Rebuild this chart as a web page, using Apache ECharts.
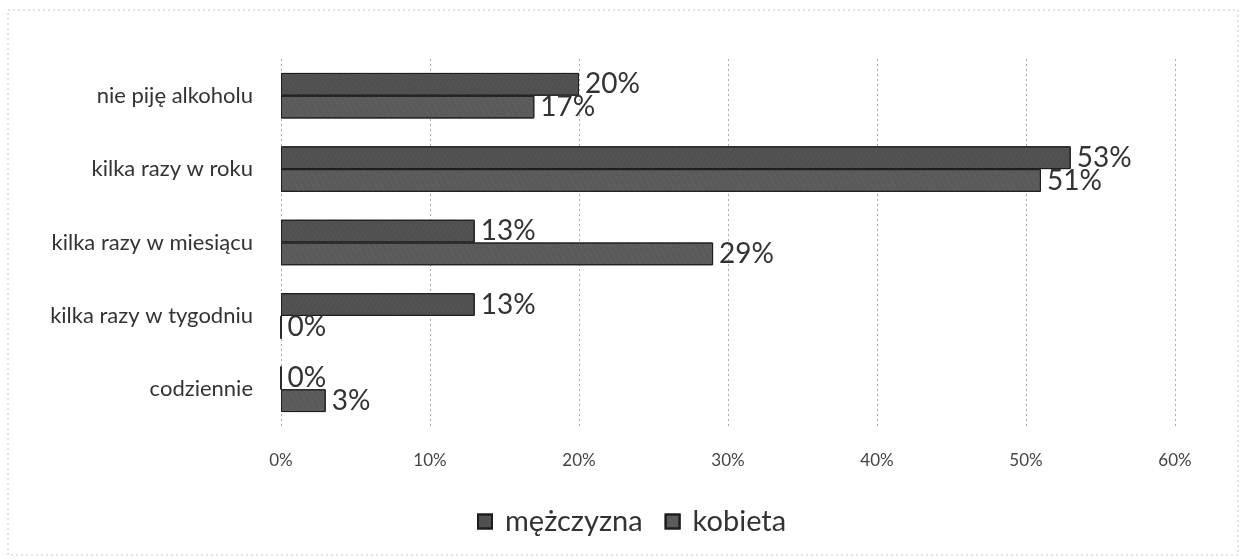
<!DOCTYPE html>
<html>
<head>
<meta charset="utf-8">
<script src="https://cdn.jsdelivr.net/npm/echarts@6/dist/echarts.min.js"></script>
<style>html,body{margin:0;padding:0;background:#fff}#c{width:1246px;height:560px}</style>
</head>
<body>
<div id="c"></div>
<script>
// categories listed bottom -> top (ECharts category y axis starts at bottom)
var categories = ['codziennie', 'kilka razy w tygodniu', 'kilka razy w miesiącu', 'kilka razy w roku', 'nie piję alkoholu'];
var seriesNames = ['mężczyzna', 'kobieta'];
var menValues = [0, 13, 13, 53, 20];
var womenValues = [3, 0, 29, 51, 17];
var xTicks = [0, 10, 20, 30, 40, 50, 60];

var chart = echarts.init(document.getElementById('c'), null, {renderer: 'canvas'});
var font = 'Lato, "Open Sans", sans-serif';
function lbl() {
  return {show: true, position: 'right', distance: 6, formatter: function (p) { return p.value + '%'; },
    color: '#333', fontSize: 28, fontFamily: font};
}
chart.setOption({
  animation: false,
  backgroundColor: '#fff',
  graphic: [{type: 'rect', shape: {x: 8, y: 10, width: 1230, height: 545},
    style: {fill: 'none', stroke: '#c8c8c8', lineWidth: 1, lineDash: [2, 3]}}],
  legend: {
    data: seriesNames, bottom: 19, left: 472, icon: 'rect', itemWidth: 14, itemHeight: 14, itemGap: 22,
    textStyle: {fontSize: 29, color: '#333', fontFamily: font, padding: [0, 0, 0, 8]}
  },
  grid: {left: 281, right: 71, top: 59, bottom: 134, containLabel: false},
  xAxis: {
    type: 'value', min: xTicks[0], max: xTicks[xTicks.length - 1], interval: 10,
    axisLine: {show: false}, axisTick: {show: false},
    axisLabel: {formatter: '{value}%', color: '#444', fontSize: 17, margin: 26, fontFamily: font},
    splitLine: {show: true, lineStyle: {color: '#aaa', type: [2, 3], width: 1}}
  },
  yAxis: {
    type: 'category', data: categories,
    axisLine: {show: false}, axisTick: {show: false},
    axisLabel: {color: '#333', fontSize: 22, margin: 28, fontFamily: font}
  },
  series: [
    {name: seriesNames[0], type: 'bar', data: menValues, barGap: '0%', barCategoryGap: '38%',
      itemStyle: {color: '#4f4f4f', borderColor: '#1e1e1e', borderWidth: 1,
        decal: {symbol: 'rect', symbolSize: 0.5, dashArrayX: [2, 2], dashArrayY: [1, 2], color: 'rgba(255,255,255,0.25)', rotation: 0.5}},
      label: lbl()},
    {name: seriesNames[1], type: 'bar', data: womenValues,
      itemStyle: {color: '#5a5a5a', borderColor: '#1e1e1e', borderWidth: 1,
        decal: {symbol: 'rect', symbolSize: 0.5, dashArrayX: [2, 3], dashArrayY: [1, 2], color: 'rgba(255,255,255,0.25)', rotation: -0.5}},
      label: lbl()}
  ]
});
</script>
</body>
</html>
